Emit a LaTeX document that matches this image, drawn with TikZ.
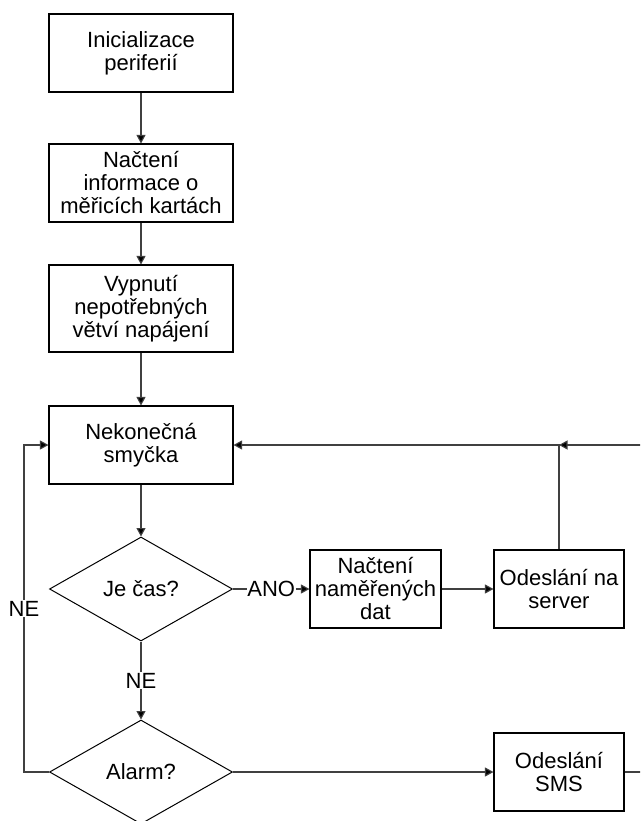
\documentclass[tikz,border=0pt]{standalone}
\usepackage{fontspec}
\setmainfont{Liberation Sans}
\usetikzlibrary{shapes.geometric,arrows.meta}
\begin{document}
\begin{tikzpicture}[x=1pt,y=-1pt,
  every node/.style={font=\fontsize{22}{23}\selectfont},
  box/.style={draw=black,line width=1.1pt,align=center,inner sep=0pt,minimum width=184pt,minimum height=78pt},
  sbox/.style={box,minimum width=131pt},
  dec/.style={draw=black,line width=1pt,shape=diamond,inner sep=0pt,minimum width=183pt,minimum height=104pt},
  conn/.style={draw=black!75,line width=1.1pt},
  arr/.style={conn,-{Triangle[length=8.5pt,width=9pt,fill=black]}},
  lbl/.style={fill=white,inner sep=0.5pt}]
\clip (0,0) rectangle (640,821);
\fill[white] (0,0) rectangle (640,821);
\node[box] (b1) at (141,53) {Inicializace\\periferií};
\node[box] (b2) at (141,183) {Načtení\\informace o\\měřicích kartách};
\node[box,minimum height=87pt] (b3) at (141,308.5) {Vypnutí\\nepotřebných\\větví napájení};
\node[box] (b4) at (141,445) {Nekonečná\\smyčka};
\node[dec] (d1) at (141,589) {Je čas?};
\node[dec] (d2) at (141,772) {Alarm?};
\node[sbox] (b5) at (375.5,589) {Načtení\\naměřených\\dat};
\node[sbox,minimum width=130pt] (b6) at (559,589) {Odeslání na\\server};
\node[sbox,minimum width=130pt] (b7) at (559,772) {Odeslání\\SMS};
\coordinate (j) at (559,445);
\coordinate (rt) at (660,445);
\coordinate (rb) at (660,772);
\coordinate (lt) at (24,445);
\coordinate (lb) at (24,772);
\draw[arr] (b1) -- (b2);
\draw[arr] (b2) -- (b3);
\draw[arr] (b3) -- (b4);
\draw[arr] (b4) -- (d1);
\draw[arr] (d1) -- node[lbl] {NE} (d2);
\draw[arr] (d1) -- node[lbl,pos=0.5] {ANO} (b5);
\draw[arr] (b5) -- (b6);
\draw[arr] (b6.north) -- (j) -- (b4.east);
\draw[arr] (b7.east) -- (rb) -- (rt) -- (j);
\draw[arr] (d2) -- (b7);
\draw[arr] (d2.west) -- (lb) -- node[lbl,pos=0.5] {NE} (lt) -- (b4.west);
\end{tikzpicture}
\end{document}
